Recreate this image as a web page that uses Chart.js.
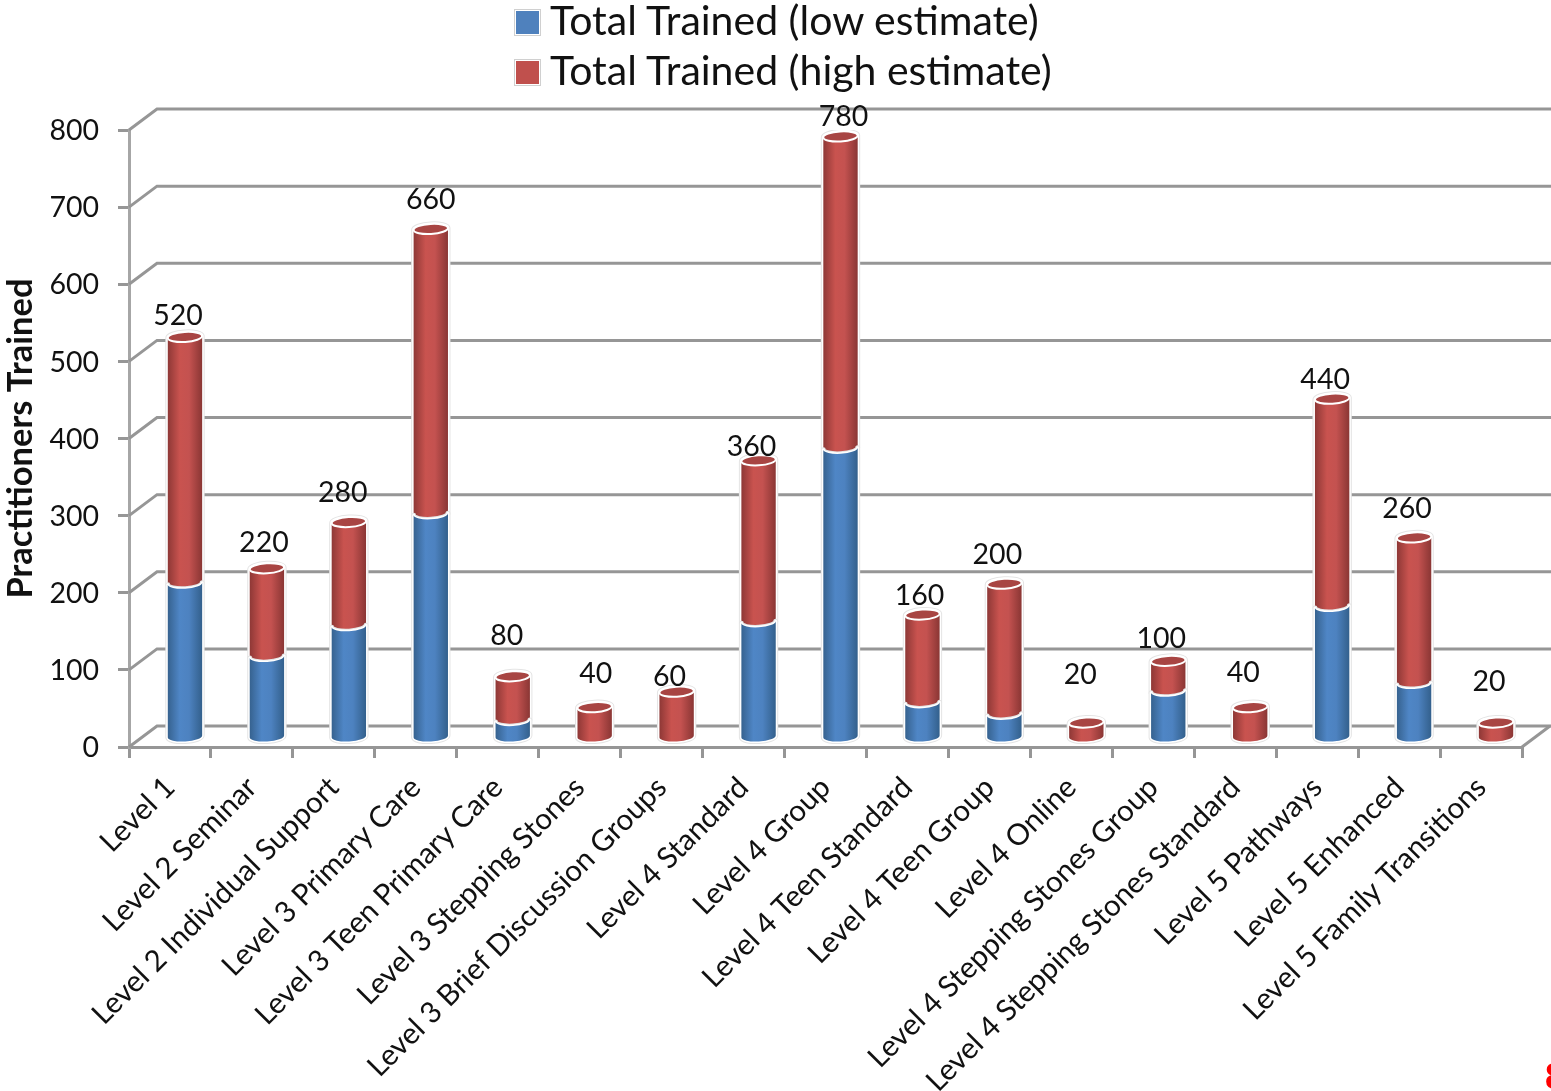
<!DOCTYPE html>
<html>
<head>
<meta charset="utf-8">
<title>Practitioners Trained</title>
<script src="https://cdn.jsdelivr.net/npm/chart.js@4/dist/chart.umd.js"></script>
<style>
  html, body { margin: 0; padding: 0; background: #fff; }
  #wrap { position: relative; width: 1551px; height: 1091px; overflow: hidden; }
  #chart { display: block; filter: blur(0.4px); }
  .legend-row { position: absolute; left: 515px; height: 50px; display: flex; align-items: center;
    font: 41px Lato, sans-serif; color: #111; white-space: nowrap; }
  .legend-box { position: relative; top: 3px; width: 23px; height: 23px; margin-right: 10px; border: 1px solid #fff; outline: 1px solid #d0d0d0; outline-offset: 0; }
  #page-no { position: absolute; left: 1545px; top: 1056px; font: bold 36px "Liberation Sans", sans-serif; color: #f00; }
</style>
</head>
<body>
<div id="wrap">
  <canvas id="chart" width="1551" height="1091"></canvas>
  <div id="legend"></div>
  <div id="page-no">8</div>
</div>
<script>
const categories = ['Level 1', 'Level 2 Seminar', 'Level 2 Individual Support', 'Level 3 Primary Care',
  'Level 3 Teen Primary Care', 'Level 3 Stepping Stones', 'Level 3 Brief Discussion Groups', 'Level 4 Standard',
  'Level 4 Group', 'Level 4 Teen Standard', 'Level 4 Teen Group', 'Level 4 Online', 'Level 4 Stepping Stones Group',
  'Level 4 Stepping Stones Standard', 'Level 5 Pathways', 'Level 5 Enhanced', 'Level 5 Family Transitions'];
const lowEstimate = [200, 105, 145, 290, 22, 0, 0, 150, 375, 45, 30, 0, 60, 0, 170, 70, 0];
// the red part sits on top of the blue part, so this is the difference up to the printed total
const highEstimate = [320, 115, 135, 370, 58, 40, 60, 210, 405, 115, 170, 20, 40, 40, 270, 190, 20];
const totals = [520, 220, 280, 660, 80, 40, 60, 360, 780, 160, 200, 20, 100, 40, 440, 260, 20];

// hand placed data labels in the original, [dx, dy] from the top of each column
const labelNudge = [[-7, -22], [-3, -27], [-6, -30], [0, -30], [-6, -41], [1, -34], [-7, -16], [-7, -15], [3, -21],
  [-3, -20], [-7, -30], [-6, -49], [-7, -23], [-7, -35], [-7, -20], [-7, -30], [-7, -42]];

const FONT = 'Lato, sans-serif';
const GREY = '#969696';
const WALL_X = 28, WALL_Y = -21;   // how far the back wall is pushed
const BAR_X = 15, BAR_Y = -9;      // columns stand in the middle of the floor
const RY = 5, TILT = -0.06;
const RED = '#c0504d', BLUE = '#4f81bd';

const shades = {
  [BLUE]: ['#36628f', '#4f86c6', '#4d82c0', '#33608c'],
  [RED]: ['#8e3836', '#c9534f', '#c45250', '#8a3634']
};

// draw columns as cylinders instead of flat rectangles
Chart.BarElement.prototype.draw = function (ctx) {
  const { x, y, base, width } = this.getProps(['x', 'y', 'base', 'width']);
  if (Math.abs(base - y) < 0.5) return;
  const cx = x + BAR_X, top = y + BAR_Y, bottom = base + BAR_Y, rx = width / 2;
  const color = this.options.backgroundColor;
  const s = shades[color];

  const grad = ctx.createLinearGradient(cx - rx, 0, cx + rx, 0);
  grad.addColorStop(0, s[0]);
  grad.addColorStop(0.35, s[1]);
  grad.addColorStop(0.62, s[2]);
  grad.addColorStop(1, s[3]);

  ctx.save();
  ctx.beginPath();
  // first dataset is painted last, so blue has to stop at the front edge of the red part
  ctx.ellipse(cx, top, rx, RY, TILT, 0, Math.PI, color === RED);
  ctx.ellipse(cx, bottom, rx, RY, TILT, Math.PI, 0, true);
  ctx.closePath();
  ctx.lineJoin = 'round';
  ctx.strokeStyle = '#e4e4e4';
  ctx.lineWidth = 5;
  ctx.stroke();
  ctx.strokeStyle = '#fff';
  ctx.lineWidth = 3;
  ctx.stroke();
  ctx.fillStyle = grad;
  ctx.fill();

  // only the red part shows its top face
  if (color === RED) {
    ctx.beginPath();
    ctx.ellipse(cx, top, rx, RY, TILT, 0, Math.PI * 2);
    ctx.fillStyle = '#a84543';
    ctx.fill();
    ctx.strokeStyle = '#fff';
    ctx.lineWidth = 2;
    ctx.stroke();
  }
  ctx.restore();
};

const wallPlugin = {
  id: 'wall',
  beforeDatasetsDraw(chart) {
    const { ctx, scales: { x, y } } = chart;
    ctx.save();
    ctx.strokeStyle = GREY;
    ctx.lineWidth = 3;
    y.ticks.forEach(t => {
      const py = y.getPixelForValue(t.value);
      ctx.beginPath();
      ctx.moveTo(x.left, py);
      ctx.lineTo(x.left + WALL_X, py + WALL_Y);
      ctx.lineTo(chart.width, py + WALL_Y);
      ctx.stroke();
    });
    // right edge of the floor
    ctx.beginPath();
    ctx.moveTo(x.right, y.bottom);
    ctx.lineTo(x.right + WALL_X, y.bottom + WALL_Y);
    ctx.stroke();
    ctx.restore();
  }
};

const totalLabels = {
  id: 'totalLabels',
  afterDatasetsDraw(chart) {
    const { ctx } = chart;
    const bars = chart.getDatasetMeta(1).data;
    ctx.save();
    ctx.font = '28.5px ' + FONT;
    ctx.fillStyle = '#111';
    ctx.textAlign = 'center';
    ctx.textBaseline = 'middle';
    bars.forEach((bar, i) => {
      ctx.fillText(totals[i], bar.x + BAR_X + labelNudge[i][0], bar.y + BAR_Y + labelNudge[i][1] + 1);
    });
    ctx.restore();
  }
};

const chart = new Chart(document.getElementById('chart'), {
  type: 'bar',
  data: {
    labels: categories,
    datasets: [
      { label: 'Total Trained (low estimate)', data: lowEstimate, backgroundColor: BLUE },
      { label: 'Total Trained (high estimate)', data: highEstimate, backgroundColor: RED }
    ]
  },
  options: {
    responsive: false,
    animation: false,
    devicePixelRatio: 1,
    layout: { padding: { top: 130, right: 29 } },
    categoryPercentage: 1,
    barPercentage: 0.42,
    plugins: { legend: { display: false }, tooltip: { enabled: false } },
    scales: {
      x: {
        stacked: true,
        afterFit: s => { s.height = 344; },
        border: { color: GREY, width: 3 },
        grid: { offset: true, drawOnChartArea: false, color: GREY, lineWidth: 3, tickLength: 11 },
        ticks: { autoSkip: false, minRotation: 45, maxRotation: 45, padding: 12, color: '#111', font: { family: FONT, size: 29.5 } }
      },
      y: {
        stacked: true,
        min: 0,
        max: 800,
        afterFit: s => { s.width = 129; },
        border: { color: '#a6a6a6', width: 3 },
        grid: { drawOnChartArea: false, color: GREY, lineWidth: 3, tickLength: 11 },
        ticks: { stepSize: 100, padding: 19, labelOffset: 1, color: '#111', font: { family: FONT, size: 28.5 } },
        title: {
          display: true,
          text: 'Practitioners Trained',
          color: '#111',
          padding: { top: 0, bottom: 0 },
          font: { family: FONT, size: 34.5, weight: 'bold' }
        }
      }
    }
  },
  plugins: [wallPlugin, totalLabels]
});

// legend rows are left aligned in the original, so build it in html
const legend = document.getElementById('legend');
chart.data.datasets.forEach((ds, i) => {
  const row = document.createElement('div');
  row.className = 'legend-row';
  row.style.top = (-6 + i * 50) + 'px';
  const box = document.createElement('span');
  box.className = 'legend-box';
  box.style.background = ds.backgroundColor;
  row.appendChild(box);
  row.appendChild(document.createTextNode(ds.label));
  legend.appendChild(row);
});
</script>
</body>
</html>
